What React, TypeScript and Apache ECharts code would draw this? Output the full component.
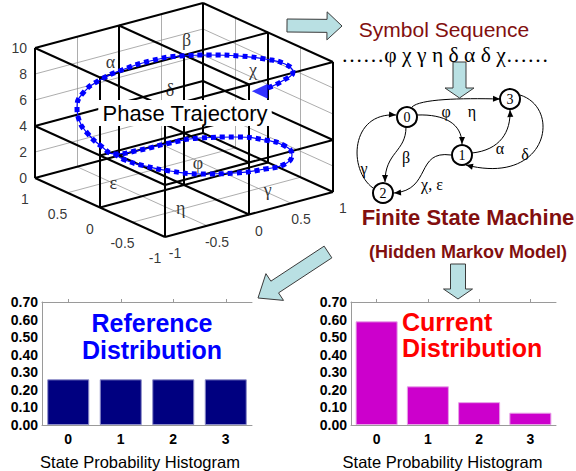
import React, { useEffect, useRef } from "react";
import * as echarts from "echarts";

// ---------- Histogram data ----------
const states = ["0", "1", "2", "3"];
const referenceDist = [0.26, 0.26, 0.26, 0.26];
const currentDist = [0.59, 0.22, 0.13, 0.07];
const probMax = 0.7;
const probStep = 0.1;

// ---------- 3D phase space axes ----------
const zTicks = [0, 2, 4, 6, 8, 10];
const xTicks = [-1, -0.5, 0, 0.5, 1];
const yTicks = [-1, -0.5, 0, 0.5, 1];
const minorXY = [-0.5, 0, 0.5];
const minorZ = [2, 4, 6, 8];
const cellX = [-1, 0, 1];
const cellY = [-1, 0, 1];
const cellZ = [0, 4, 10];

// phase trajectory (x, y, z)
const trajectory: number[][] = [
  [0.513, -0.629, 8], [0.765, -0.55, 8], [0.964, -0.431, 8], [1.037, -0.214, 8],
  [0.969, 0.006, 8], [0.832, 0.213, 8], [0.624, 0.406, 8], [0.382, 0.556, 8],
  [0.075, 0.62, 8], [-0.283, 0.589, 8], [-0.612, 0.501, 8], [-0.93, 0.337, 8],
  [-1.015, 0.334, 7], [-0.893, 0.461, 5.5], [-0.735, 0.527, 4], [-0.621, 0.474, 3],
  [-0.434, 0.501, 2], [-0.181, 0.443, 2], [0.159, 0.421, 2], [0.466, 0.356, 2],
  [0.745, 0.178, 2], [0.92, -0.057, 2], [0.971, -0.3, 2], [0.875, -0.531, 2],
  [0.674, -0.683, 2], [0.441, -0.676, 2], [0.151, -0.59, 2], [-0.128, -0.411, 2],
  [-0.303, -0.176, 2], [-0.407, 0.073, 2], [-0.458, 0.316, 2], [-0.434, 0.501, 2],
];
const trajectoryArrow = [0.4, -0.65, 8];

const cellSymbols = ["α", "β", "χ", "δ", "ε", "φ", "γ", "η"];
const cellSymbolPos: number[][] = [
  [-0.45, 0.55, 9], [0.48, 0.58, 9], [0.48, -0.44, 9], [-0.47, -0.39, 9],
  [-0.71, 0.17, 1], [0.25, 0.11, 1], [0.33, -0.86, 1], [-0.62, -0.75, 1],
];

const symbolSequence = ["φ", "χ", "γ", "η", "δ", "α", "δ", "χ"];

// ---------- Finite state machine ----------
const fsmStates = ["0", "1", "2", "3"];
const fsmEdges = [
  { from: "0", to: "3", label: "η" },
  { from: "0", to: "1", label: "φ" },
  { from: "0", to: "2", label: "β" },
  { from: "2", to: "0", label: "γ" },
  { from: "1", to: "3", label: "α" },
  { from: "3", to: "1", label: "δ" },
  { from: "1", to: "2", label: "χ, ε" },
];

// ---------- layout ----------
const W = 576;
const H = 471;
const O3 = [184, 185];
const EX = [84, -22.5];
const EY = [-65, -29.5];
const EZ = [0, -13];
const proj = (x: number, y: number, z: number) => [
  O3[0] + EX[0] * x + EY[0] * y + EZ[0] * z,
  O3[1] + EX[1] * x + EY[1] * y + EZ[1] * z,
];
const seg = (a: number[], b: number[]) => ({
  coords: [proj(a[0], a[1], a[2]), proj(b[0], b[1], b[2])],
});

const nodePos: Record<string, number[]> = {
  "0": [407, 117],
  "1": [462, 155],
  "2": [383, 193],
  "3": [510, 99],
};
const edgeGeom: Record<string, { c: number[]; l: number[] }> = {
  "0-3": { c: [412, 107, 420, 99, 460, 98, 500, 99], l: [472, 111] },
  "0-1": { c: [417, 115, 445, 114, 462, 124, 462, 144], l: [446, 111] },
  "0-2": { c: [406, 127, 406, 152, 385, 152, 385, 182], l: [406, 157] },
  "2-0": { c: [373, 188, 348, 170, 350, 112, 396, 115], l: [364, 168] },
  "1-3": { c: [472, 153, 500, 150, 511, 132, 510, 110], l: [500, 148] },
  "3-1": { c: [520, 95, 562, 108, 548, 186, 466, 165], l: [525, 154] },
  "1-2": { c: [451, 155, 415, 150, 432, 190, 394, 193], l: [432, 184] },
};

function blockArrow(tail: number[], tip: number[], sw: number, hw: number, hl: number) {
  const dx = tip[0] - tail[0];
  const dy = tip[1] - tail[1];
  const len = Math.hypot(dx, dy);
  const d = [dx / len, dy / len];
  const n = [-d[1], d[0]];
  const neck = [tip[0] - d[0] * hl, tip[1] - d[1] * hl];
  const off = (p: number[], k: number) => [p[0] + n[0] * k, p[1] + n[1] * k];
  return [off(tail, sw / 2), off(neck, sw / 2), off(neck, hw / 2), tip, off(neck, -hw / 2), off(neck, -sw / 2), off(tail, -sw / 2)];
}
function arrowHead(c: number[]) {
  const ex = c[6], ey = c[7];
  const dx = ex - c[4], dy = ey - c[5];
  const len = Math.hypot(dx, dy);
  const d = [dx / len, dy / len];
  const n = [-d[1], d[0]];
  const b = [ex - d[0] * 7, ey - d[1] * 7];
  return [[ex, ey], [b[0] + n[0] * 3, b[1] + n[1] * 3], [b[0] - n[0] * 3, b[1] - n[1] * 3]];
}

const SANS = '"Liberation Sans", Arial, Helvetica, sans-serif';
const SERIF = '"Liberation Serif", "Times New Roman", "DejaVu Serif", serif';
const MAROON = "#820f0f";
const ARROW_FILL = "#b9e0e3";

export default function App() {
  const ref = useRef<HTMLDivElement>(null);

  useEffect(() => {
    if (!ref.current) return;
    const chart = echarts.init(ref.current, undefined, { renderer: "svg" });

    // wireframe
    const thin: any[] = [];
    minorZ.forEach((z) => {
      thin.push(seg([-1, 1, z], [1, 1, z]));
      thin.push(seg([1, 1, z], [1, -1, z]));
    });
    minorXY.forEach((v) => {
      thin.push(seg([v, 1, 0], [v, 1, 10]));
      thin.push(seg([1, v, 0], [1, v, 10]));
      thin.push(seg([v, -1, 0], [v, 1, 0]));
      thin.push(seg([-1, v, 0], [1, v, 0]));
    });
    const thick: any[] = [];
    cellZ.forEach((z) => {
      cellX.forEach((x) => thick.push(seg([x, -1, z], [x, 1, z])));
      cellY.forEach((y) => thick.push(seg([-1, y, z], [1, y, z])));
    });
    cellX.forEach((x) => cellY.forEach((y) => thick.push(seg([x, y, 0], [x, y, 10]))));

    const trajPts = trajectory.map((p) => proj(p[0], p[1], p[2]));

    const labelSeries = (data: any[], label: any) => ({
      type: "scatter",
      xAxisIndex: 0,
      yAxisIndex: 0,
      symbolSize: 0,
      silent: true,
      data,
      label: { show: true, formatter: (p: any) => p.data[2], color: "#000", ...label },
      z: 6,
    });

    const fmtTick = (v: number) => String(v);

    const graphics: any[] = [];
    // block arrows
    [
      blockArrow([287, 25.5], [342, 26], 13, 28, 15),
      blockArrow([459.5, 62], [459.5, 98], 13, 29, 10),
      blockArrow([328, 252], [258, 298], 14, 32, 20),
      blockArrow([458, 264], [458, 299], 15, 29, 10),
    ].forEach((pts) =>
      graphics.push({
        type: "polygon",
        shape: { points: pts },
        style: { fill: ARROW_FILL, stroke: "#3a3a3a", lineWidth: 1 },
        z: 10,
      })
    );
    // FSM edges
    fsmEdges.forEach((e) => {
      const g = edgeGeom[e.from + "-" + e.to];
      const c = g.c;
      graphics.push({
        type: "bezierCurve",
        shape: { x1: c[0], y1: c[1], cpx1: c[2], cpy1: c[3], cpx2: c[4], cpy2: c[5], x2: c[6], y2: c[7] },
        style: { stroke: "#000", lineWidth: 1, fill: null },
        z: 10,
      });
      graphics.push({
        type: "polygon",
        shape: { points: arrowHead(c) },
        style: { fill: "#000" },
        z: 10,
      });
      graphics.push({
        type: "text",
        x: g.l[0],
        y: g.l[1],
        style: { text: e.label, font: `16px ${SERIF}`, fill: "#000", align: "center", verticalAlign: "middle", textAlign: "center", textVerticalAlign: "middle" },
        z: 11,
      });
    });
    fsmStates.forEach((s) => {
      const p = nodePos[s];
      graphics.push({
        type: "circle",
        shape: { cx: p[0], cy: p[1], r: 10 },
        style: { fill: "#fff", stroke: "#000", lineWidth: 2 },
        z: 12,
      });
      graphics.push({
        type: "text",
        x: p[0],
        y: p[1] + 0.5,
        style: { text: s, font: `14px ${SERIF}`, fill: "#000", align: "center", verticalAlign: "middle", textAlign: "center", textVerticalAlign: "middle" },
        z: 13,
      });
    });
    const txt = (text: string, x: number, y: number, font: string, fill: string, align = "center", extra: any = {}) => ({
      type: "text",
      x,
      y,
      style: { text, font, fill, align, verticalAlign: "middle", textAlign: align, textVerticalAlign: "middle", ...extra },
      z: 20,
    });
    graphics.push(txt("Symbol Sequence", 444, 29, `21px ${SANS}`, MAROON));
    graphics.push(txt("……" + symbolSequence.join(" ") + "……", 445, 55, `21.5px ${SERIF}`, "#000"));
    graphics.push(txt("Finite State Machine", 468, 217, `bold 22px ${SANS}`, MAROON));
    graphics.push(txt("(Hidden Markov Model)", 468, 252, `bold 18px ${SANS}`, MAROON));
    graphics.push(txt("Reference", 152, 323, `bold 25px ${SANS}`, "#0000ff"));
    graphics.push(txt("Distribution", 152, 350, `bold 25px ${SANS}`, "#0000ff"));
    graphics.push(txt("Current", 402, 322, `bold 25px ${SANS}`, "#ff0000", "left"));
    graphics.push(txt("Distribution", 402, 348, `bold 25px ${SANS}`, "#ff0000", "left"));
    graphics.push(
      txt("Phase Trajectory", 185, 113, `22px ${SANS}`, "#000", "center", {
        backgroundColor: "#fff",
        padding: [2, 4],
      })
    );

    const barYAxis = (gi: number) => ({
      gridIndex: gi,
      type: "value",
      min: 0,
      max: probMax,
      interval: probStep,
      axisLine: { show: true, lineStyle: { color: "#9a9a9a", width: 1 } },
      axisTick: { show: false },
      splitLine: { show: false },
      axisLabel: {
        margin: 4,
        color: "#000",
        fontFamily: SANS,
        fontWeight: "bold",
        fontSize: 14,
        formatter: (v: number) => v.toFixed(2),
      },
    });
    const barXAxis = (gi: number, shift: number) => ({
      gridIndex: gi,
      type: "category",
      data: states,
      axisLine: { show: true, lineStyle: { color: "#9a9a9a", width: 1 } },
      axisTick: { show: false },
      axisLabel: { margin: 7, color: "#000", fontFamily: SANS, fontWeight: "bold", fontSize: 14 },
      name: "State Probability Histogram",
      nameLocation: "middle",
      nameGap: 28,
      nameTextStyle: { color: "#000", fontFamily: SANS, fontSize: 16.5, padding: [0, shift, 0, 0] },
    });
    const barTopAxis = (gi: number) => ({
      gridIndex: gi,
      type: "category",
      data: states,
      position: "top",
      axisLine: { show: true, lineStyle: { color: "#9a9a9a", width: 1 } },
      axisTick: { show: true, alignWithLabel: true, length: 3, lineStyle: { color: "#9a9a9a" } },
      axisLabel: { show: false },
    });

    chart.setOption({
      animation: false,
      backgroundColor: "#fff",
      grid: [
        { left: 0, top: 0, width: W, height: H },
        { left: 42, top: 302, width: 210, height: 130 },
        { left: 351, top: 302, width: 205, height: 128 },
      ],
      xAxis: [
        { gridIndex: 0, type: "value", min: 0, max: W, show: false },
        barXAxis(1, 14),
        barTopAxis(1),
        barXAxis(2, 22),
        barTopAxis(2),
      ],
      yAxis: [
        { gridIndex: 0, type: "value", min: 0, max: H, inverse: true, show: false },
        barYAxis(1),
        barYAxis(2),
      ],
      graphic: { elements: graphics },
      series: [
        {
          type: "lines",
          coordinateSystem: "cartesian2d",
          xAxisIndex: 0,
          yAxisIndex: 0,
          silent: true,
          data: thin,
          lineStyle: { color: "#8a8a8a", width: 0.7, opacity: 1 },
          z: 1,
        },
        {
          type: "lines",
          coordinateSystem: "cartesian2d",
          xAxisIndex: 0,
          yAxisIndex: 0,
          silent: true,
          data: thick,
          lineStyle: { color: "#000", width: 2, opacity: 1 },
          z: 2,
        },
        {
          type: "line",
          xAxisIndex: 0,
          yAxisIndex: 0,
          data: trajPts,
          smooth: 0.5,
          symbol: "none",
          silent: true,
          lineStyle: { color: "#0000ff", width: 1.2 },
          z: 4,
        },
        {
          type: "line",
          xAxisIndex: 0,
          yAxisIndex: 0,
          data: trajPts,
          smooth: 0.5,
          symbol: "none",
          silent: true,
          lineStyle: { color: "#0000ff", width: 5, type: [5, 4], cap: "butt" },
          z: 4,
        },
        {
          type: "scatter",
          xAxisIndex: 0,
          yAxisIndex: 0,
          silent: true,
          data: [proj(trajectoryArrow[0], trajectoryArrow[1], trajectoryArrow[2])],
          symbol: "triangle",
          symbolSize: [15, 16],
          symbolRotate: 90,
          itemStyle: { color: "#0000ff" },
          z: 5,
        },
        labelSeries(
          zTicks.map((z) => [...proj(-1, 1, z), fmtTick(z)]),
          { position: "left", distance: 8, fontFamily: SANS, fontSize: 14 }
        ),
        labelSeries(
          yTicks.map((v) => [...proj(-1, v, 0), fmtTick(v)]),
          { position: "inside", offset: [-10, 21], fontFamily: SANS, fontSize: 14 }
        ),
        labelSeries(
          xTicks.map((v) => [...proj(v, -1, 0), fmtTick(v)]),
          { position: "inside", offset: [10, 16], fontFamily: SANS, fontSize: 14 }
        ),
        labelSeries(
          cellSymbols.map((s, i) => [...proj(cellSymbolPos[i][0], cellSymbolPos[i][1], cellSymbolPos[i][2]), s]),
          { position: "inside", fontFamily: SERIF, fontSize: 18 }
        ),
        {
          type: "bar",
          xAxisIndex: 1,
          yAxisIndex: 1,
          data: referenceDist,
          barCategoryGap: "20%",
          itemStyle: { color: "#000080", borderColor: "#8c8cc8", borderWidth: 1 },
        },
        {
          type: "bar",
          xAxisIndex: 3,
          yAxisIndex: 2,
          data: currentDist,
          barCategoryGap: "18%",
          itemStyle: { color: "#cc00cc", borderColor: "#e7a0e7", borderWidth: 1 },
        },
      ],
    });
    return () => chart.dispose();
  }, []);

  return (
    <div
      ref={ref}
      style={{ position: "absolute", left: 0, top: 0, width: W, height: H, background: "#fff" }}
    />
  );
}
